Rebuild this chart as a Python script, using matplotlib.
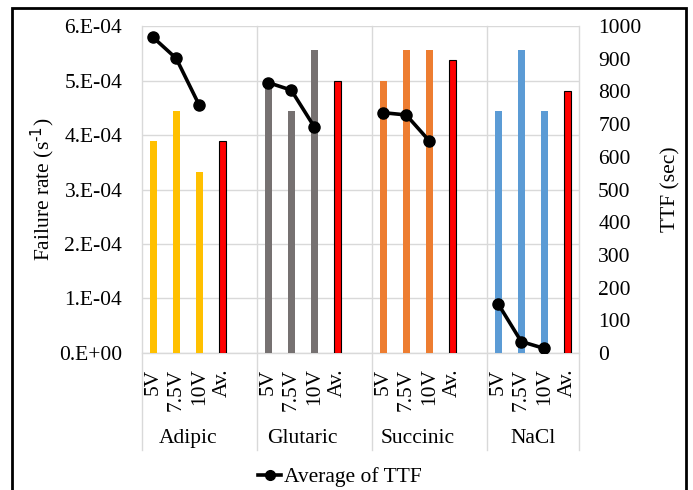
import numpy as np
import matplotlib
matplotlib.use("Agg")
import matplotlib.pyplot as plt
from matplotlib.patches import Rectangle
from matplotlib.lines import Line2D

plt.rcParams['font.family'] = ['Liberation Serif', 'DejaVu Serif']
plt.rcParams['mathtext.default'] = 'regular'

# failure rate (1/s) for each electrolyte at 5V, 7.5V, 10V and the average
groups = ['Adipic', 'Glutaric', 'Succinic', 'NaCl']
voltages = ['5V', '7.5V', '10V', 'Av.']
rate_adipic = [3.89e-4, 4.44e-4, 3.33e-4, 3.89e-4]
rate_glutaric = [5.00e-4, 4.44e-4, 5.56e-4, 5.00e-4]
rate_succinic = [5.00e-4, 5.56e-4, 5.56e-4, 5.37e-4]
rate_nacl = [4.44e-4, 5.56e-4, 4.44e-4, 4.81e-4]

# average time to failure (s), no value for the "Av." column
ttf_adipic = [965, 901, 758]
ttf_glutaric = [827, 804, 692]
ttf_succinic = [735, 728, 649]
ttf_nacl = [150, 35, 14]

rate_ticks = [0, 1e-4, 2e-4, 3e-4, 4e-4, 5e-4, 6e-4]
rate_labels = ['0.E+00', '1.E-04', '2.E-04', '3.E-04', '4.E-04', '5.E-04', '6.E-04']
ttf_ticks = [0, 100, 200, 300, 400, 500, 600, 700, 800, 900, 1000]

colors = ['#FFC000', '#767171', '#ED7D31', '#5B9BD5']
avg_color = '#FF0000'
grid_color = '#D9D9D9'
fs = 15.5

rates = [rate_adipic, rate_glutaric, rate_succinic, rate_nacl]
ttfs = [ttf_adipic, ttf_glutaric, ttf_succinic, ttf_nacl]

fig = plt.figure(figsize=(6.93, 4.9), dpi=100)
ax = fig.add_axes([0.2045, 0.2796, 0.6306, 0.6673])

# each group takes 5 slots, the fifth one stays empty as a gap
xpos, xlab = [], []
line_x, line_y = [], []
for g, (r, t) in enumerate(zip(rates, ttfs)):
    x = [5 * g + i for i in range(4)]
    ax.bar(x[:3], r[:3], width=0.32, color=colors[g], zorder=3)
    ax.bar(x[3], r[3], width=0.32, color=avg_color, edgecolor='black',
           linewidth=0.8, zorder=3)
    xpos += x
    xlab += voltages
    line_x += x[:3] + [np.nan]
    line_y += list(t) + [np.nan]

ax.set_xlim(-0.5, 18.5)
ax.set_ylim(0, 6e-4)
ax.set_yticks(rate_ticks)
ax.set_yticklabels(rate_labels)
ax.set_xticks(xpos)
ax.set_xticklabels(xlab, rotation=90, va='top', ha='center')
ax.tick_params(axis='both', length=0, labelsize=fs)
ax.tick_params(axis='y', pad=14)
ax.tick_params(axis='x', pad=11)
ax.grid(axis='y', color=grid_color, linewidth=1, zorder=0)
for s in ax.spines.values():
    s.set_visible(False)

# vertical dividers running down through the category labels
trans = ax.get_xaxis_transform()
for xv in [-0.5, 4.5, 9.5, 14.5, 18.5]:
    ax.plot([xv, xv], [1, -0.297], transform=trans, color=grid_color,
            linewidth=1, clip_on=False, zorder=1)
ax.plot([-0.5, 18.5], [0, 0], transform=trans, color=grid_color, linewidth=1,
        clip_on=False, zorder=1)

for g, name in enumerate(groups):
    cx = 5 * g + 1.5
    ax.text(cx, -0.26, name, transform=trans, ha='center', va='center',
            fontsize=fs)

ax.set_ylabel(r'Failure rate (s$^{\text{-1}}$)', fontsize=fs, labelpad=2)

ax2 = ax.twinx()
ax2.plot(line_x, line_y, color='black', linewidth=2.6, marker='o',
         markersize=8, zorder=4, label='Average of TTF')
ax2.set_ylim(0, 1000)
ax2.set_yticks(ttf_ticks)
ax2.tick_params(axis='y', length=0, labelsize=fs, pad=14)
ax2.set_ylabel('TTF (sec)', fontsize=fs, labelpad=14)
for s in ax2.spines.values():
    s.set_visible(False)

handle = Line2D([], [], color='black', linewidth=2.6, marker='o', markersize=7)
fig.legend([handle], ['Average of TTF'], loc='center',
           bbox_to_anchor=(0.49, 1 - 477 / 490), frameon=False, fontsize=fs,
           handlelength=1.1, handletextpad=0.1)

# chart frame
fig.patches.append(Rectangle((12.5 / 693, -0.1), (686 - 12.5) / 693, 1.1 - 8.5 / 490,
                             transform=fig.transFigure, fill=False,
                             edgecolor='black', linewidth=2))

fig.savefig('out.png', dpi=100)
